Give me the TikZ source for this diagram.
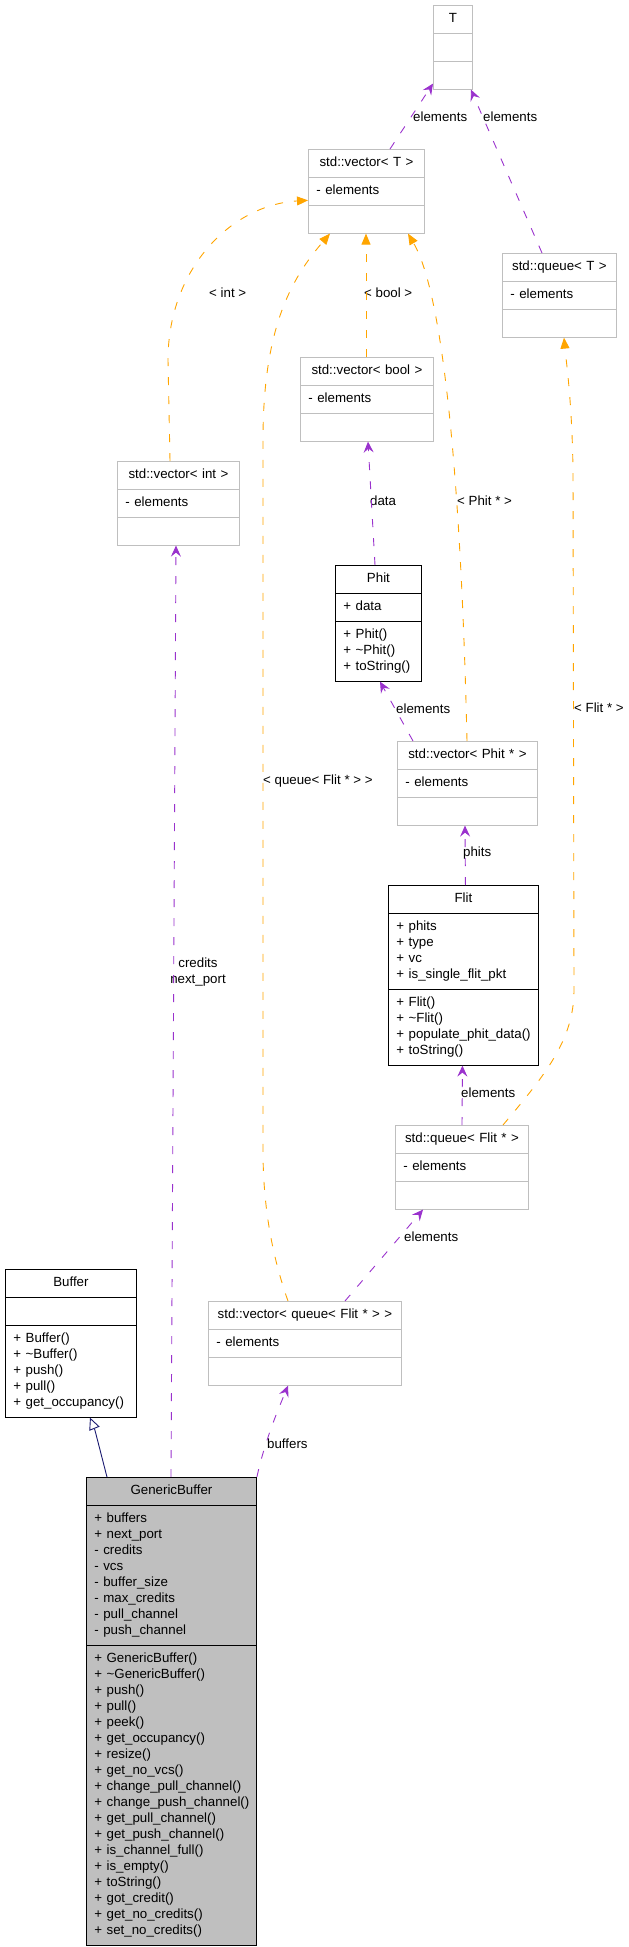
\documentclass[tikz,border=0pt]{standalone}
\usepackage{fontspec}
\setmainfont{Liberation Sans}
\usepackage{tikz}
\usetikzlibrary{shapes.multipart}
\usetikzlibrary{arrows.meta}
\definecolor{usecol}{HTML}{9A32CD}
\definecolor{tmplcol}{HTML}{FFA500}
\definecolor{inhcol}{HTML}{191970}
\definecolor{boxgrey}{HTML}{BFBFBF}
\setlength{\parindent}{0pt}
% one centred title line and one member line of a class box
\newcommand{\ttl}[1]{\hbox to\hsize{\hss\strut#1\hss}\par}
\newcommand{\mem}[1]{\mbox{\strut#1}\par}

\begin{document}
\begin{tikzpicture}[x=1pt,y=-1pt,
    font=\fontsize{13.3}{16}\selectfont,
    cls/.style={rectangle split,rectangle split parts=3,draw=black,line width=0.9pt,
      anchor=north west,inner xsep=8pt,inner ysep=5.5pt},
    greycls/.style={cls,draw=boxgrey},
    usage/.style={usecol,line width=0.9pt,dash pattern=on 8pt off 11pt,
      -{Stealth[inset=4pt,length=11pt,width=10pt]}},
    tmpl/.style={tmplcol,line width=0.9pt,dash pattern=on 8pt off 11pt,
      -{Triangle[length=11pt,width=9pt]}},
    inherit/.style={inhcol,line width=0.9pt,-{Triangle[open,length=12pt,width=11pt,fill=white]}},
    lbl/.style={anchor=west,inner sep=0pt}]
            \useasboundingbox (0,0) rectangle (629,1947);

            % Place the template classes
            \node[greycls,text width=23pt] (t) at (433,5) {\ttl{T}
              \nodepart{two}\mem{}
              \nodepart{three}\mem{}};
            \node[greycls,text width=100pt] (vt) at (308,149) {\ttl{std::vector< T >}
              \nodepart{two}\mem{- elements}
              \nodepart{three}\mem{}};
            \node[greycls,text width=98pt] (qt) at (502,253) {\ttl{std::queue< T >}
              \nodepart{two}\mem{- elements}
              \nodepart{three}\mem{}};
            \node[greycls,text width=117pt] (vb) at (300,357) {\ttl{std::vector< bool >}
              \nodepart{two}\mem{- elements}
              \nodepart{three}\mem{}};
            \node[greycls,text width=106pt] (vi) at (117,461) {\ttl{std::vector< int >}
              \nodepart{two}\mem{- elements}
              \nodepart{three}\mem{}};
            \node[greycls,text width=124pt] (vp) at (397,741) {\ttl{std::vector< Phit * >}
              \nodepart{two}\mem{- elements}
              \nodepart{three}\mem{}};
            \node[greycls,text width=117pt] (qf) at (395,1125) {\ttl{std::queue< Flit * >}
              \nodepart{two}\mem{- elements}
              \nodepart{three}\mem{}};
            \node[greycls,text width=177pt] (vq) at (208,1301) {\ttl{std::vector< queue< Flit * > >}
              \nodepart{two}\mem{- elements}
              \nodepart{three}\mem{}};

            % Place the documented classes
            \node[cls,text width=70pt] (phit) at (335,565) {\ttl{Phit}
              \nodepart{two}\mem{+ data}
              \nodepart{three}\mem{+ Phit()}\mem{+ \textasciitilde Phit()}\mem{+ toString()}};
            \node[cls,text width=134pt] (flit) at (388,885) {\ttl{Flit}
              \nodepart{two}\mem{+ phits}\mem{+ type}\mem{+ vc}\mem{+ is\_single\_flit\_pkt}
              \nodepart{three}\mem{+ Flit()}\mem{+ \textasciitilde Flit()}\mem{+ populate\_phit\_data()}\mem{+ toString()}};
            \node[cls,text width=115pt] (buf) at (5,1269) {\ttl{Buffer}
              \nodepart{two}\mem{}
              \nodepart{three}\mem{+ Buffer()}\mem{+ \textasciitilde Buffer()}\mem{+ push()}\mem{+ pull()}\mem{+ get\_occupancy()}};
            \node[cls,fill=boxgrey,text width=154pt] (gb) at (86,1477) {\ttl{GenericBuffer}
              \nodepart{two}\mem{+ buffers}\mem{+ next\_port}\mem{- credits}\mem{- vcs}\mem{- buffer\_size}\mem{- max\_credits}\mem{- pull\_channel}\mem{- push\_channel}
              \nodepart{three}\mem{+ GenericBuffer()}\mem{+ \textasciitilde GenericBuffer()}\mem{+ push()}\mem{+ pull()}\mem{+ peek()}\mem{+ get\_occupancy()}\mem{+ resize()}\mem{+ get\_no\_vcs()}\mem{+ change\_pull\_channel()}\mem{+ change\_push\_channel()}\mem{+ get\_pull\_channel()}\mem{+ get\_push\_channel()}\mem{+ is\_channel\_full()}\mem{+ is\_empty()}\mem{+ toString()}\mem{+ got\_credit()}\mem{+ get\_no\_credits()}\mem{+ set\_no\_credits()}};

            % The edge labels
            \node[lbl] (l1) at (413,117) {elements};
            \node[lbl] (l2) at (483,117) {elements};
            \node[lbl] (l3) at (209,293) {< int >};
            \node[lbl] (l4) at (364,293) {< bool >};
            \node[lbl] (l5) at (457,501) {< Phit * >};
            \node[lbl] (l6) at (263,781) {< queue< Flit * > >};
            \node[lbl] (l7) at (370,501) {data};
            \node[lbl] (l8) at (396,709) {elements};
            \node[lbl] (l9) at (463,853) {phits};
            \node[lbl] (l10) at (461,1093) {elements};
            \node[lbl] (l11) at (574,708) {< Flit * >};
            \node[align=center,inner sep=0pt] (l12) at (198,972) {credits\\next\_port};
            \node[lbl] (l13) at (267,1444) {buffers};
            \node[lbl] (l14) at (404,1237) {elements};

            % The lines!
            \draw[usage] ([xshift=82pt]vt.north west) -- ([yshift=6pt]t.south west);
            \draw[usage] ([xshift=40pt]qt.north west) -- ([xshift=-2pt]t.south east);
            \draw[tmpl] ([xshift=53pt]vi.north west) -- (168,360)
              .. controls (168,270) and (230,205) .. ([yshift=-9pt]vt.west);
            \draw[tmpl] ([xshift=66pt]vb.north west) -- ([xshift=58pt]vt.south west);
            \draw[tmpl] ([xshift=70pt]vp.north west)
              .. controls (462,520) and (447,300) .. ([xshift=100pt]vt.south west);
            \draw[tmpl] ([xshift=80pt]vq.north west) .. controls (270,1250) and (263,1200) .. (263,1150)
              -- (263,440) .. controls (263,330) and (290,280) .. ([xshift=22pt]vt.south west);
            \draw[usage] ([xshift=40pt]phit.north west) -- ([xshift=68pt]vb.south west);
            \draw[usage] ([xshift=16pt]vp.north west) -- ([xshift=45pt]phit.south west);
            \draw[usage] ([xshift=2pt]flit.north) -- ([xshift=68pt]vp.south west);
            \draw[usage] ([xshift=67pt]qf.north west) -- ([xshift=-1pt]flit.south);
            \draw[tmpl] ([xshift=108pt]qf.north west) .. controls (545,1075) and (574,1040) .. (574,990)
              -- (573,470) .. controls (572,400) and (566,360) .. ([xshift=62pt]qt.south west);
            \draw[usage] ([xshift=85pt]gb.north west) -- ([xshift=59pt]vi.south west);
            \draw[usage] (gb.north east) .. controls (265,1440) and (278,1410) .. ([xshift=80pt]vq.south west);
            \draw[usage] ([xshift=137pt]vq.north west) -- ([xshift=28pt]qf.south west);
            \draw[inherit] ([xshift=21pt]gb.north west) .. controls (100,1450) and (95,1430) .. ([xshift=85pt]buf.south west);
        \end{tikzpicture}
\end{document}
